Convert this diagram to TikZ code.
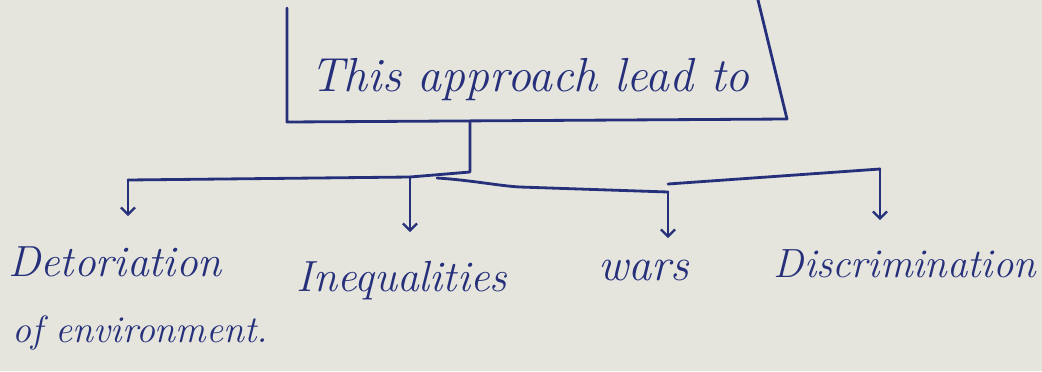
\documentclass[tikz,border=0pt]{standalone}
\usetikzlibrary{arrows.meta}
\definecolor{paper}{HTML}{E5E5DE}
\definecolor{ink}{HTML}{26307A}
\tikzset{
  inkline/.style={draw=ink, line width=2pt, line cap=round, line join=round},
  inkarrow/.style={inkline, -{Straight Barb[length=5pt,width=10pt,line width=1.6pt]}},
  hand/.style={text=ink, font=\fontsize{31}{34}\selectfont\itshape, inner sep=0pt},
}
\begin{document}
\begin{tikzpicture}[x=0.025cm,y=-0.025cm]
\useasboundingbox[fill=paper] (0,0) rectangle (1042,371);
% title and its open box
\node[hand, font=\fontsize{34}{38}\selectfont\itshape] (title) at (530,80) {This approach lead to};
\coordinate (bTL) at (287,8);
\coordinate (bBL) at (287,122);
\coordinate (bBR) at (787,119);
\coordinate (bTR) at (758,0);
\draw[inkline] (bTL) -- (bBL) -- (bBR) -- (bTR);
% labels
\node[hand] (det) at (115,262) {Detoriation};
\node[hand, font=\fontsize{27}{30}\selectfont\itshape] (det2) at (140,333) {of environment.};
\node[hand] (ineq) at (402,281) {Inequalities};
\node[hand, font=\fontsize{33}{36}\selectfont\itshape] (wars) at (644,270) {wars};
\node[hand, font=\fontsize{29}{32}\selectfont\itshape] (disc) at (905,264) {Discrimination};
% junctions
\coordinate (s0) at (470,121);
\coordinate (s1) at (470,172);
\coordinate (l0) at (128,180);
\coordinate (i0) at (410,177);
\coordinate (r0) at (437,178);
\coordinate (w0) at (668,192);
\coordinate (w1) at (668,184);
\coordinate (d0) at (880,169);
% arrow ends
\coordinate (la) at (128,216);
\coordinate (ia) at (410,232);
\coordinate (wa) at (668,238);
\coordinate (da) at (880,220);
\draw[inkline] (s0) -- (s1) -- (i0) -- (l0);
\draw[inkline] (r0) .. controls (470,180) and (500,186) .. (520,187) -- (w0);
\draw[inkline] (w1) -- (d0);
\draw[inkarrow] (l0) -- (la);
\draw[inkarrow] (i0) -- (ia);
\draw[inkarrow] (w0) -- (wa);
\draw[inkarrow] (d0) -- (da);
\end{tikzpicture}
\end{document}
